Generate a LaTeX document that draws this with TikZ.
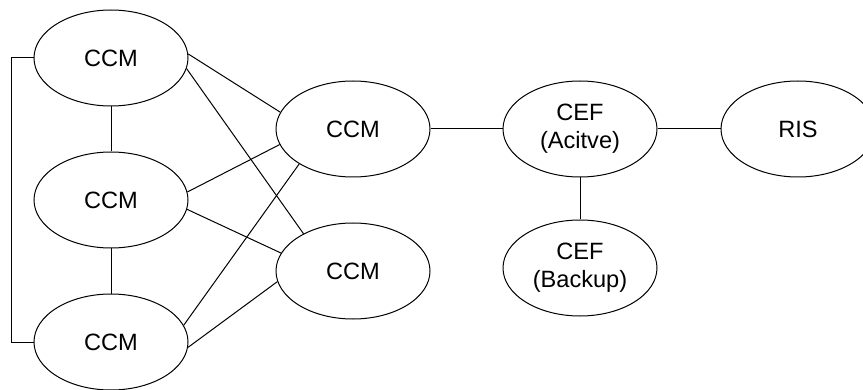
\documentclass[tikz,border=0pt]{standalone}
\usepackage{fontspec}
\setmainfont{Liberation Sans}
\usetikzlibrary{shapes.geometric}

\begin{document}
\begin{tikzpicture}[x=0.5pt, y=-0.5pt, line width=0.5pt,
        every text node part/.style={align=center},
        module/.style={draw=black, ellipse, minimum width=77pt, minimum height=48pt, inner sep=0pt, font=\fontsize{11.8}{14}\selectfont}]
        \useasboundingbox (0, 0) rectangle (863, 390);

        \node(CCMone) at (111, 58)[module]{CCM};
        \node(CCMtwo) at (111, 200)[module]{CCM};
        \node(CCMthree) at (111, 342)[module]{CCM};
        \node(CCMupper) at (353, 129)[module]{CCM};
        \node(CCMlower) at (353, 271)[module]{CCM};

        \node(CEFactive) at (580, 129)[module]{CEF\\(Acitve)};
        \node(CEFbackup) at (580, 268)[module]{CEF\\(Backup)};
        \node(RIS) at (798, 129)[module]{RIS};

        \draw (CCMone) -- (CCMtwo);
        \draw (CCMtwo) -- (CCMthree);
        \draw (CCMone.west) -- ++(-22, 0) |- (CCMthree.west);

        \draw (CCMone.3) -- (CCMupper.167);
        \draw (CCMone.-8) -- (CCMlower.143);
        \draw (CCMtwo.6) -- (CCMupper.-168);
        \draw (CCMtwo.-7) -- (CCMlower.166);
        \draw (CCMthree.13) -- (CCMupper.-147);
        \draw (CCMthree.-4) -- (CCMlower.-172);

        \draw (CCMupper) -- (CEFactive);
        \draw (CEFactive) -- (RIS);
        \draw (CEFactive) -- (CEFbackup);

    \end{tikzpicture}
\end{document}
